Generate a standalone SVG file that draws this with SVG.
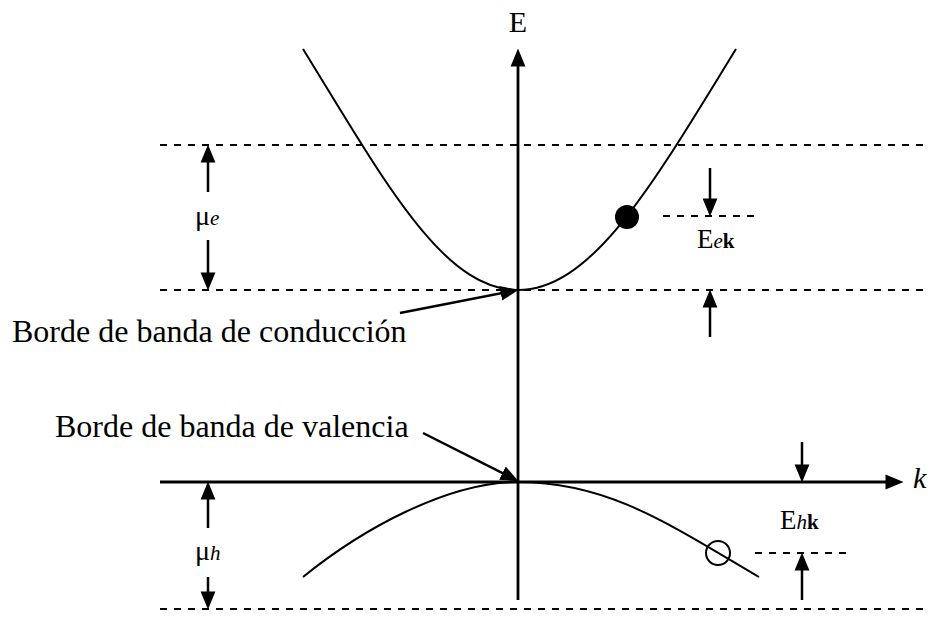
<svg xmlns="http://www.w3.org/2000/svg" width="930" height="629" viewBox="0 0 930 629">
<style>
.dash{stroke:#000;stroke-width:1.8;stroke-dasharray:7 7;fill:none}
.axis{stroke:#000;stroke-width:2.8;fill:none}
.arr{stroke:#000;stroke-width:2.5;fill:none;marker-end:url(#ah)}
.curve{stroke:#000;stroke-width:2;fill:none}
.t{font-family:"Liberation Serif","Times New Roman",serif;fill:#000}
.it{font-style:italic}
.bd{font-weight:bold}
</style>
<defs>
<marker id="ah" markerUnits="userSpaceOnUse" markerWidth="18" markerHeight="16" viewBox="0 0 17 14" refX="9" refY="7" orient="auto">
<path d="M0,0 L17,7 L0,14 z" fill="#000"/>
</marker>
</defs>
<rect width="930" height="629" fill="#fff"/>
<g id="dashed-levels">
<line class="dash" x1="160" y1="145" x2="930" y2="145"/>
<line class="dash" x1="160" y1="290" x2="930" y2="290"/>
<line class="dash" x1="160" y1="609" x2="930" y2="609"/>
<line class="dash" x1="663" y1="216" x2="757" y2="216"/>
<line class="dash" x1="755" y1="553" x2="847" y2="553"/>
</g>
<g id="bands">
<path class="curve" d="M303,49 C385,182 443,290 518,290 C593,290 654,182 736,49"/>
<path class="curve" d="M303,577 C363,528.4 448,482 518,482 C608,482 669,524 759,577"/>
<circle id="electron" cx="627" cy="217" r="12" fill="#000"/>
<circle id="hole" cx="718" cy="553" r="12" fill="none" stroke="#000" stroke-width="2"/>
</g>
<g id="connectors">
<line class="axis" x1="518" y1="600" x2="518" y2="57" marker-end="url(#ah)"/>
<line class="axis" x1="160" y1="482" x2="895" y2="482" marker-end="url(#ah)"/>
<line class="arr" x1="208" y1="192" x2="208" y2="153"/>
<line class="arr" x1="208" y1="240" x2="208" y2="282"/>
<line class="arr" x1="208" y1="528" x2="208" y2="490"/>
<line class="arr" x1="208" y1="577" x2="208" y2="601"/>
<line class="arr" x1="710" y1="168" x2="710" y2="208"/>
<line class="arr" x1="710" y1="337" x2="710" y2="298"/>
<line class="arr" x1="802" y1="442" x2="802" y2="474"/>
<line class="arr" x1="802" y1="600" x2="802" y2="561"/>
<line class="arr" x1="400" y1="313" x2="510.1" y2="291.5"/>
<line class="arr" x1="423" y1="433" x2="510.9" y2="477.4"/>
</g>
<g id="labels">
<text class="t" x="518" y="32" font-size="30" text-anchor="middle">E</text>
<text class="t it" x="913" y="488" font-size="30">k</text>
<text class="t" x="195" y="225" font-size="28">μ<tspan class="it" font-size="21">e</tspan></text>
<text class="t" x="195" y="560" font-size="28">μ<tspan class="it" font-size="21">h</tspan></text>
<text class="t" x="697" y="248" font-size="27">E<tspan class="it" font-size="21">e</tspan><tspan class="bd" font-size="21">k</tspan></text>
<text class="t" x="780" y="529" font-size="27">E<tspan class="it" font-size="21">h</tspan><tspan class="bd" font-size="21">k</tspan></text>
<text class="t" x="12" y="342" font-size="32">Borde de banda de conducción</text>
<text class="t" x="55" y="437" font-size="32">Borde de banda de valencia</text>
</g>
</svg>
